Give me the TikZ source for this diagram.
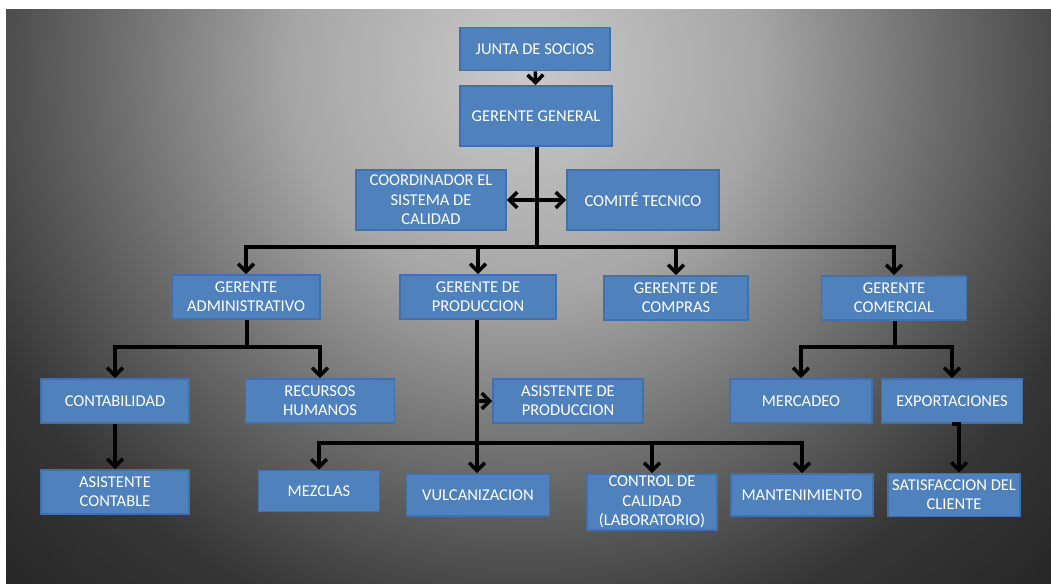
\documentclass[tikz,border=0pt]{standalone}
\usepackage{fontspec}
\setmainfont{Carlito}
\usepackage{tikz}
\usetikzlibrary{arrows.meta,positioning,calc}
\definecolor{boxblue}{RGB}{79,129,189}
\definecolor{boxedge}{RGB}{66,112,168}
\pgfdeclareradialshading{fondo}{\pgfpoint{0bp}{0bp}}{%
  rgb(0bp)=(0.79,0.79,0.79);
  rgb(8bp)=(0.65,0.65,0.65);
  rgb(14bp)=(0.43,0.43,0.43);
  rgb(20.5bp)=(0.21,0.21,0.21);
  rgb(31bp)=(0.09,0.09,0.09);
  rgb(50bp)=(0.08,0.08,0.08)}

\begin{document}
\begin{tikzpicture}[x=0.02cm, y=-0.02cm,
    cargo/.style={rectangle, draw=boxedge, line width=1pt, fill=boxblue,
        text=white, align=center, font=\fontsize{9.4}{11}\selectfont,
        inner sep=1pt, minimum width=3cm, minimum height=0.88cm},
    arr/.style={-{Straight Barb[length=4.5pt,width=9pt]}, line width=2pt},
    arr2/.style={{Straight Barb[length=4.5pt,width=9pt]}-{Straight Barb[length=4.5pt,width=9pt]}, line width=2pt},
    lin/.style={line width=2pt}
]
    \useasboundingbox (0,0) rectangle (1051,583);
    \fill[white] (0,0) rectangle (1051,583);
    \begin{scope}
        \clip (6,9) rectangle (1051,583);
        \shade[shading=fondo] (-205,-635) rectangle (1255,775);
    \end{scope}

    % direccion
    \node[cargo, minimum height=0.86cm] (junta) at (535,49) {JUNTA DE SOCIOS};
    \node[cargo, minimum width=3.04cm, minimum height=1.2cm] (gg) at (536,116) {GERENTE GENERAL};
    \node[cargo, minimum height=1.2cm] (coord) at (431,200) {COORDINADOR EL\\SISTEMA DE\\CALIDAD};
    \node[cargo, minimum width=3.04cm, minimum height=1.2cm] (comite) at (643,200) {COMITÉ TECNICO};

    % gerencias
    \node[cargo, minimum width=2.96cm] (gadm) at (246,297) {GERENTE\\ADMINISTRATIVO};
    \node[cargo, minimum width=3.12cm] (gprod) at (478,297) {GERENTE DE\\PRODUCCION};
    \node[cargo, minimum width=2.88cm] (gcomp) at (676,298) {GERENTE DE\\COMPRAS};
    \node[cargo, minimum width=2.9cm] (gcom) at (894,298) {GERENTE\\COMERCIAL};

    % areas
    \node[cargo, minimum width=2.96cm] (conta) at (115,401) {CONTABILIDAD};
    \node[cargo, minimum width=2.98cm] (rrhh) at (320,401) {RECURSOS\\HUMANOS};
    \node[cargo] (asprod) at (568,401) {ASISTENTE DE\\PRODUCCION};
    \node[cargo, minimum width=2.84cm] (merc) at (801,401) {MERCADEO};
    \node[cargo, minimum width=2.82cm] (export) at (952,401) {EXPORTACIONES};

    \node[cargo, minimum width=2.96cm] (ascont) at (115,492) {ASISTENTE\\CONTABLE};
    \node[cargo, minimum width=2.42cm, minimum height=0.82cm] (mezclas) at (319,491) {MEZCLAS};
    \node[cargo, minimum width=2.86cm, minimum height=0.84cm] (vulc) at (478,495) {VULCANIZACION};
    \node[cargo, minimum width=2.6cm, minimum height=1.12cm] (control) at (652,502) {CONTROL DE\\CALIDAD\\(LABORATORIO)};
    \node[cargo, minimum width=2.84cm, minimum height=0.84cm] (mant) at (802,495) {MANTENIMIENTO};
    \node[cargo, minimum width=2.64cm, minimum height=0.86cm] (satis) at (954,495) {SATISFACCION DEL\\CLIENTE};

    % puntos de reparto
    \coordinate (bus1) at (537,247);
    \coordinate (bus2) at (247,347);
    \coordinate (bus3) at (477,443);
    \coordinate (bus4) at (895,347);
    \coordinate (pasis) at (477,401);

    \draw[arr] (junta) -- (gg);
    \draw[lin] (gg.south -| bus1) -- (bus1);
    \draw[arr2] (coord) -- (comite);
    \draw[arr] (bus1) -| (gadm);
    \draw[arr] (bus1) -| (gprod);
    \draw[arr] (bus1) -| (gcomp);
    \draw[arr] (bus1) -| (gcom);

    \draw[lin] (gadm.south -| bus2) -- (bus2);
    \draw[arr] (bus2) -| (conta);
    \draw[arr] (bus2) -| (rrhh);
    \draw[arr] (conta) -- (ascont);

    \draw[arr] (gprod.south -| bus3) -- (vulc.north -| bus3);
    \draw[arr] (pasis) -- (asprod);
    \draw[arr] (bus3) -| (mezclas);
    \draw[arr] (bus3) -| (control);
    \draw[arr] (bus3) -| (mant);

    \draw[lin] (gcom.south -| bus4) -- (bus4);
    \draw[arr] (bus4) -| (merc);
    \draw[arr] (bus4) -| (export);
    \draw[arr] (export.south) -| ([xshift=0.1cm]satis.north);
\end{tikzpicture}
\end{document}
